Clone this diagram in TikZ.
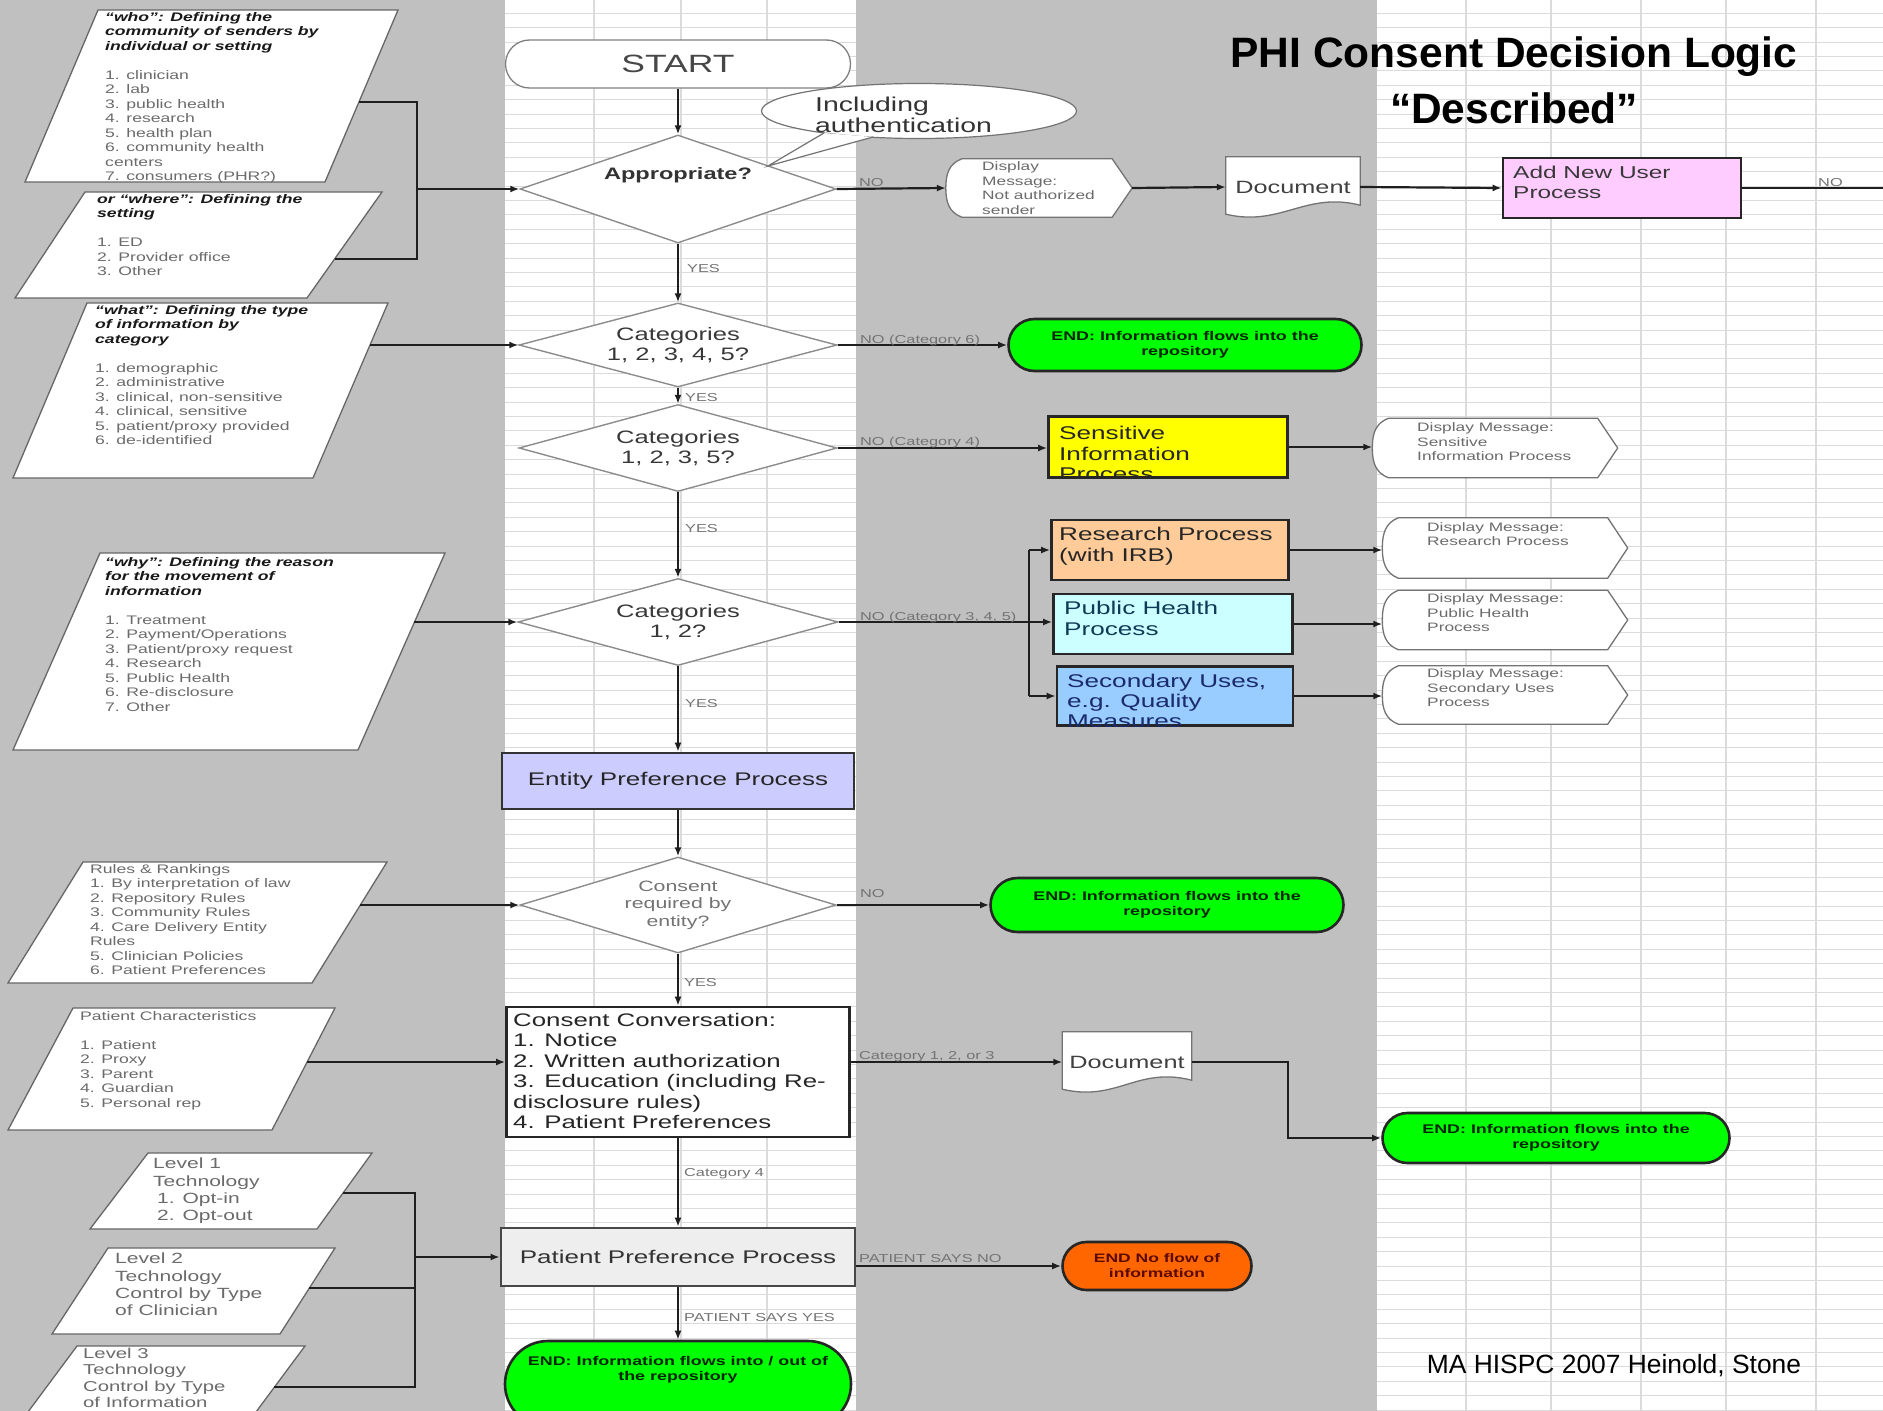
\documentclass[tikz,border=0pt]{standalone}
\usepackage{fontspec}
\setmainfont{Liberation Sans}
\newfontfamily\dg[FakeStretch=1.42]{Liberation Sans}
\usetikzlibrary{shapes.geometric,shapes.misc,arrows.meta}
\pgfdeclarelayer{back}
\pgfdeclarelayer{shp}
\pgfsetlayers{back,shp,main}
\newcommand\myfs[2]{\fontsize{#1pt}{#2pt}\selectfont}
\newcommand\hdr[1]{\textcolor{black!90}{\bfseries\itshape #1}}
\definecolor{bggray}{HTML}{C0C0C0}
\definecolor{endgreen}{HTML}{00FF00}
\definecolor{endorange}{HTML}{FF6600}
\definecolor{sensyellow}{HTML}{FFFF00}
\definecolor{respeach}{HTML}{FFCC99}
\definecolor{phcyan}{HTML}{CCFFFF}
\definecolor{secblue}{HTML}{99CCFF}
\definecolor{entlav}{HTML}{CCCCFF}
\definecolor{anupink}{HTML}{FFCCFF}
\definecolor{pppgray}{HTML}{EEEEEE}
\definecolor{phtext}{HTML}{0E3B55}
\definecolor{sectext}{HTML}{1A2A6C}
\definecolor{endotext}{HTML}{5A0A00}
\tikzset{
 conn/.style={line width=2.2pt, draw=black!88},
 arr/.style={conn, -{Latex[length=9pt,width=7pt]}},
 dia/.style={diamond, draw=black!45, line width=1.4pt, fill=white, aspect=3.2, inner sep=0pt, align=center, font=\dg\myfs{18}{20}, text=black!78},
 stad/.style={rounded rectangle, inner sep=0pt, align=center},
 endg/.style={stad, fill=endgreen, draw=black!85, line width=2.6pt, font=\dg\bfseries\myfs{12.6}{15}, text=black!85!green},
 cbox/.style={rectangle, draw=black!85, line width=2.6pt, inner sep=0pt},
 para/.style={draw=black!60, line width=1.3pt, fill=white},
 ptxt/.style={anchor=north west, align=left, inner sep=0pt, font=\dg\myfs{12.4}{14.5}, text=black!58},
 ltxt/.style={anchor=north west, align=left, inner sep=0pt, font=\dg\myfs{14.8}{17.2}, text=black!58},
 lbl/.style={anchor=base west, inner sep=0pt, font=\dg\myfs{11.5}{12}, text=black!55},
 dispn/.style={rectangle, draw=none, inner sep=0pt},
 dispo/.style={draw=black!55, line width=1.3pt, fill=white},
 disptxt/.style={anchor=west, align=left, inner sep=0pt, font=\dg\myfs{12.2}{14.5}, text=black!58},
 boxtxt/.style={anchor=north west, align=left, inner sep=0pt, font=\dg\myfs{18.4}{20.5}},
 gridl/.style={draw=black!14, line width=1.1pt},
}
\newcommand\dispshape[1]{%
 \begin{pgfonlayer}{shp}
 \filldraw[dispo] ([xshift=16pt]#1.north west) -- ([xshift=-20pt]#1.north east) -- (#1.east) -- ([xshift=-20pt]#1.south east) -- ([xshift=16pt]#1.south west) .. controls ([xshift=3pt,yshift=5pt]#1.south west) and ([yshift=-14pt]#1.west) .. (#1.west) .. controls ([yshift=14pt]#1.west) and ([xshift=3pt,yshift=-5pt]#1.north west) .. ([xshift=16pt]#1.north west) -- cycle;
 \end{pgfonlayer}}
\newcommand\docshape[1]{%
 \begin{pgfonlayer}{shp}
 \filldraw[dispo] (#1.north west) -- (#1.north east) -- ([yshift=12pt]#1.south east) .. controls ([xshift=-55pt,yshift=26pt]#1.south east) and ([xshift=55pt,yshift=-10pt]#1.south west) .. ([yshift=3pt]#1.south west) -- cycle;
 \end{pgfonlayer}}
\begin{document}
\begin{tikzpicture}[x=1pt,y=-1pt]
\useasboundingbox (0,0) rectangle (1883,1411);
\begin{pgfonlayer}{back}
\fill[bggray] (0,0) rectangle (1883,1411);
\fill[white] (505,0) rectangle (856,1411);
\fill[white] (1377,0) rectangle (1883,1411);
\foreach \yy in {13.3,27.7,...,1411} {\draw[gridl] (505,\yy) -- (856,\yy); \draw[gridl] (1377,\yy) -- (1883,\yy);}
\foreach \xx in {594,681,767,1466,1551,1641,1726,1816} {\draw[gridl] (\xx,0) -- (\xx,1411);}
\end{pgfonlayer}

% title and footer
\node[align=center, inner sep=0pt, anchor=north, font=\bfseries\myfs{42.5}{56}] (title) at (1514,37) {PHI Consent Decision Logic\\“Described”};
\node[anchor=base, inner sep=0pt, font=\myfs{26.4}{30}] (footer) at (1614,1373) {MA HISPC 2007 Heinold, Stone};

% left parallelograms
\draw[para] (98,10) -- (398,10) -- (325,182) -- (25,182) -- cycle;
\node[ptxt] (p1t) at (105,12) {\hdr{“who”: Defining the}\\\hdr{community of senders by}\\\hdr{individual or setting}\\[14.5pt]1. clinician\\2. lab\\3. public health\\4. research\\5. health plan\\6. community health\\centers\\7. consumers (PHR?)};
\draw[para] (85,192) -- (382,192) -- (307,298) -- (15,298) -- cycle;
\node[ptxt] (p2t) at (97,194) {\hdr{or “where”: Defining the}\\\hdr{setting}\\[14.5pt]1. ED\\2. Provider office\\3. Other};
\draw[para] (87,303) -- (388,303) -- (313,478) -- (13,478) -- cycle;
\node[ptxt] (p3t) at (95,305) {\hdr{“what”: Defining the type}\\\hdr{of information by}\\\hdr{category}\\[14.5pt]1. demographic\\2. administrative\\3. clinical, non-sensitive\\4. clinical, sensitive\\5. patient/proxy provided\\6. de-identified};
\draw[para] (100,553) -- (445,553) -- (358,750) -- (13,750) -- cycle;
\node[ptxt] (p4t) at (105,557) {\hdr{“why”: Defining the reason}\\\hdr{for the movement of}\\\hdr{information}\\[14.5pt]1. Treatment\\2. Payment/Operations\\3. Patient/proxy request\\4. Research\\5. Public Health\\6. Re-disclosure\\7. Other};
\draw[para] (83,862) -- (387,862) -- (312,983) -- (8,983) -- cycle;
\node[ptxt] (p5t) at (90,864) {Rules \& Rankings\\1. By interpretation of law\\2. Repository Rules\\3. Community Rules\\4. Care Delivery Entity\\Rules\\5. Clinician Policies\\6. Patient Preferences};
\draw[para] (73,1008) -- (335,1008) -- (272,1130) -- (8,1130) -- cycle;
\node[ptxt] (p6t) at (80,1011) {Patient Characteristics\\[14.5pt]1. Patient\\2. Proxy\\3. Parent\\4. Guardian\\5. Personal rep};
\draw[para] (148,1153) -- (372,1153) -- (317,1229) -- (90,1229) -- cycle;
\node[ltxt] (p7t) at (153,1158) {Level 1\\Technology\\\hspace*{4pt}1. Opt-in\\\hspace*{4pt}2. Opt-out};
\draw[para] (108,1248) -- (335,1248) -- (280,1334) -- (52,1334) -- cycle;
\node[ltxt] (p8t) at (115,1253) {Level 2\\Technology\\Control by Type\\of Clinician};
\draw[para] (77,1346) -- (305,1346) -- (250,1420) -- (22,1420) -- cycle;
\node[ltxt, font=\dg\myfs{14.3}{16.4}] (p9t) at (83,1348) {Level 3\\Technology\\Control by Type\\of Information};

% central column
\node[stad, draw=black!50, line width=1.3pt, fill=white, minimum width=345pt, minimum height=48pt, font=\dg\myfs{25}{28}, text=black!72] (start) at (678,64) {START};
\node[dia, minimum width=316pt, minimum height=108pt] (appr) at (678,189) {};
\node[inner sep=0pt, font=\dg\bfseries\myfs{16.6}{18}, text=black!80] (apprt) at (678,175) {Appropriate?};
\node[ellipse, draw=black!55, line width=1.2pt, fill=white, minimum width=315pt, minimum height=55pt, inner sep=0pt] (callout) at (919,111) {};
\coordinate (cpA) at (824,133);
\coordinate (cpB) at (873,137);
\coordinate (calltip) at (768,166);
\filldraw[fill=white, draw=black!55, line width=1.2pt] (cpA) -- (calltip) -- (cpB);
\node[anchor=west, align=left, inner sep=0pt, font=\dg\myfs{20}{20.5}, text=black!80] (callt) at (815,115) {Including\\authentication};

\node[dia, minimum width=318pt, minimum height=84pt] (cat1) at (678,345) {Categories\\1, 2, 3, 4, 5?};
\node[dia, minimum width=318pt, minimum height=87pt] (cat2) at (678,448) {Categories\\1, 2, 3, 5?};
\node[dia, minimum width=320pt, minimum height=87pt] (cat3) at (678,622) {Categories\\1, 2?};
\node[cbox, fill=entlav, draw=black!80, minimum width=352pt, minimum height=56pt, font=\dg\myfs{18.3}{20}, text=black!85] (entity) at (678,781) {Entity Preference Process};
\node[dia, minimum width=316pt, minimum height=96pt, font=\dg\myfs{15}{17.5}, text=black!55] (consdia) at (678,905) {Consent\\required by\\entity?};
\node[cbox, fill=white, minimum width=343pt, minimum height=130pt] (conv) at (678,1072) {};
\node[anchor=west, align=left, inner sep=0pt, font=\dg\myfs{18.2}{20.4}, text=black!85] (convt) at (513,1071) {Consent Conversation:\\1. Notice\\2. Written authorization\\3. Education (including Re-\\disclosure rules)\\4. Patient Preferences};
\node[cbox, fill=pppgray, draw=black!72, minimum width=354pt, minimum height=58pt, font=\dg\myfs{18.3}{20}, text=black!80] (ppp) at (678,1257) {Patient Preference Process};
\node[endg, minimum width=346pt, minimum height=86pt] (end5) at (678,1384) {};
\node[align=center, inner sep=0pt, font=\dg\bfseries\myfs{12.6}{15}, text=black!85!green] (end5t) at (678,1370) {END: Information flows into / out of\\the repository};

% right side
\node[dispn, minimum width=186pt, minimum height=58pt] (disp1) at (1039,188) {};
\dispshape{disp1}
\node[disptxt] (disp1t) at (982,188) {Display\\Message:\\Not authorized\\sender};
\node[dispn, minimum width=134pt, minimum height=60pt, font=\dg\myfs{17.8}{20}, text=black!75] (doc1) at (1293,187) {Document};
\docshape{doc1}
\node[cbox, fill=anupink, minimum width=238pt, minimum height=60pt] (anu) at (1622,188) {};
\node[boxtxt, font=\dg\myfs{17.2}{20}, text=black!78] (anut) at (1513,166) {Add New User\\Process};
\coordinate (offright) at (1883,188);

\node[endg, minimum width=353pt, minimum height=52pt] (end1) at (1185,345) {END: Information flows into the\\repository};
\node[cbox, fill=sensyellow, minimum width=239pt, minimum height=61pt] (sens) at (1168,447) {};
\begin{scope}
\clip (sens.north west) rectangle (sens.south east);
\node[boxtxt, text=black!85] (senst) at (1059,426) {Sensitive\\Information\\Process};
\end{scope}
\node[dispn, minimum width=245pt, minimum height=59pt] (disp2) at (1495,448) {};
\dispshape{disp2}
\node[disptxt] (disp2t) at (1417,442) {Display Message:\\Sensitive\\Information Process};

\coordinate (br) at (1029,622);
\node[cbox, fill=respeach, minimum width=237pt, minimum height=60pt] (res) at (1170,550) {};
\node[boxtxt, font=\dg\myfs{18.4}{21}, text=black!85] (rest) at (1059,527) {Research Process\\(with IRB)};
\node[cbox, fill=phcyan, minimum width=239pt, minimum height=60pt] (ph) at (1173,624) {};
\node[boxtxt, font=\dg\myfs{18.4}{21}, text=phtext] (pht) at (1064,601) {Public Health\\Process};
\node[cbox, fill=secblue, minimum width=236pt, minimum height=59pt] (sec) at (1175,696) {};
\begin{scope}
\clip (sec.north west) rectangle (sec.south east);
\node[boxtxt, font=\dg\myfs{18.4}{20}, text=sectext] (sect) at (1067,674) {Secondary Uses,\\e.g. Quality\\Measures};
\end{scope}
\node[dispn, minimum width=245pt, minimum height=60pt] (disp3) at (1505,548) {};
\dispshape{disp3}
\node[disptxt] (disp3t) at (1427,534) {Display Message:\\Research Process};
\node[dispn, minimum width=245pt, minimum height=59pt] (disp4) at (1505,620) {};
\dispshape{disp4}
\node[disptxt] (disp4t) at (1427,613) {Display Message:\\Public Health\\Process};
\node[dispn, minimum width=245pt, minimum height=58pt] (disp5) at (1505,695) {};
\dispshape{disp5}
\node[disptxt] (disp5t) at (1427,688) {Display Message:\\Secondary Uses\\Process};

\node[endg, minimum width=353pt, minimum height=54pt] (end3) at (1167,905) {END: Information flows into the\\repository};
\node[dispn, minimum width=129pt, minimum height=60pt, font=\dg\myfs{17.8}{20}, text=black!75] (doc2) at (1127,1062) {Document};
\docshape{doc2}
\coordinate (turn) at (1288,1100);
\node[endg, minimum width=347pt, minimum height=50pt] (end4) at (1556,1138) {END: Information flows into the\\repository};
\node[stad, fill=endorange, draw=black!85, line width=2.6pt, minimum width=189pt, minimum height=48pt, font=\dg\bfseries\myfs{12.3}{15}, text=endotext] (endo) at (1157,1266) {END No flow of\\information};

% connectors, central
\draw[arr] (start.south) -- (appr.north);
\draw[arr] (appr.east) -- (disp1.west);
\draw[arr] (disp1.east) -- (doc1.west);
\draw[arr] (doc1.east) -- (anu.west);
\draw[conn] (anu.east) -- (offright);
\draw[arr] (appr.south) -- (cat1.north);
\draw[arr] (cat1.east) -- (end1.west);
\draw[arr] (cat1.south) -- (cat2.north);
\draw[arr] (cat2.east) -- (cat2.east -| sens.west);
\draw[arr] (sens.east) -- (sens.east -| disp2.west);
\draw[arr] (cat2.south) -- (cat3.north);
\draw[conn] (cat3.east) -- (br);
\draw[conn] (br |- res.west) -- (br |- sec.west);
\draw[arr] (br |- res.west) -- (res.west);
\draw[arr] (br) -- (br -| ph.west);
\draw[arr] (br |- sec.west) -- (sec.west);
\draw[arr] (res.east) -- (res.east -| disp3.west);
\draw[arr] (ph.east) -- (ph.east -| disp4.west);
\draw[arr] (sec.east) -- (sec.east -| disp5.west);
\draw[arr] (cat3.south) -- (entity.north);
\draw[arr] (entity.south) -- (consdia.north);
\draw[arr] (consdia.east) -- (end3.west);
\draw[arr] (consdia.south) -- (conv.north);
\draw[arr] (conv.east |- doc2.west) -- (doc2.west);
\draw[arr] (doc2.east) -| (turn) |- (end4.west);
\draw[arr] (conv.south) -- (ppp.north);
\draw[arr] (ppp.east |- endo.west) -- (endo.west);
\draw[arr] (ppp.south) -- (end5.north);

% connectors, left
\coordinate (p1c) at (359,102);
\coordinate (p2c) at (335,259);
\coordinate (bx1) at (417,189);
\draw[conn] (p1c) -| (bx1) |- (p2c);
\draw[arr] (bx1) -- (appr.west);
\coordinate (p3c) at (370,345);
\draw[arr] (p3c) -- (cat1.west);
\coordinate (p4c) at (414,622);
\draw[arr] (p4c) -- (cat3.west);
\coordinate (p5c) at (360,905);
\draw[arr] (p5c) -- (consdia.west);
\coordinate (p6c) at (307,1062);
\draw[arr] (p6c) -- (p6c -| conv.west);
\coordinate (p7c) at (343,1193);
\coordinate (p8c) at (309,1288);
\coordinate (p9c) at (274,1387);
\coordinate (bx2) at (415,1257);
\draw[conn] (p7c) -| (bx2) |- (p9c);
\draw[conn] (p8c) -- (p8c -| bx2);
\draw[arr] (bx2) -- (ppp.west);

% labels
\node[lbl] (l1) at (859,186) {NO};
\node[lbl] (l2) at (1818,186) {NO};
\node[lbl] (l3) at (687,272) {YES};
\node[lbl] (l4) at (685,401) {YES};
\node[lbl] (l5) at (685,532) {YES};
\node[lbl] (l6) at (685,707) {YES};
\node[lbl] (l7) at (684,986) {YES};
\node[lbl] (l8) at (860,343) {NO (Category 6)};
\node[lbl] (l9) at (860,445) {NO (Category 4)};
\node[lbl] (l10) at (860,620) {NO (Category 3, 4, 5)};
\node[lbl] (l11) at (860,897) {NO};
\node[lbl] (l12) at (859,1059) {Category 1, 2, or 3};
\node[lbl] (l13) at (684,1176) {Category 4};
\node[lbl] (l14) at (859,1262) {PATIENT SAYS NO};
\node[lbl] (l15) at (684,1321) {PATIENT SAYS YES};
\end{tikzpicture}
\end{document}
